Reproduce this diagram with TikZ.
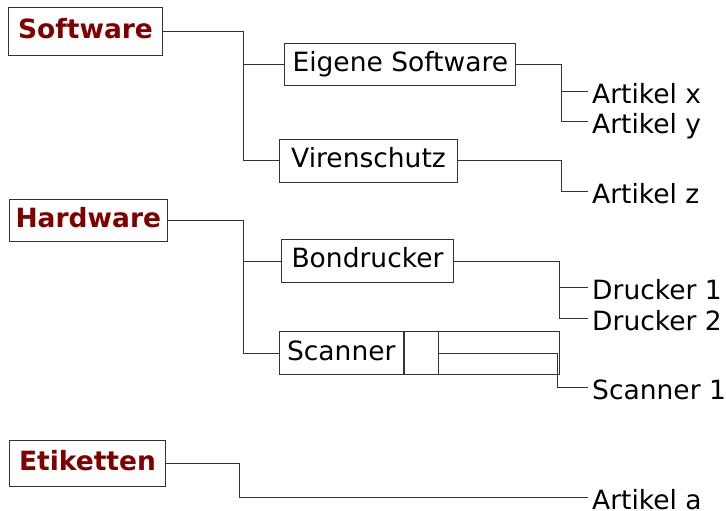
\documentclass[tikz,border=0pt]{standalone}
\usepackage{fontspec}
\setmainfont{DejaVu Sans}
\usepackage{tikz}
\usetikzlibrary{positioning}
\definecolor{darkred}{HTML}{800000}

\begin{document}
\begin{tikzpicture}[x=1pt, y=-1pt,
    font=\fontsize{26.5}{30}\selectfont,
    group/.style={draw=black!80, line width=1pt, inner sep=0pt,
        text height=19.3pt, text depth=5.5pt,
        font=\fontsize{26.5}{30}\selectfont\bfseries, text=darkred},
    category/.style={draw=black!80, line width=1pt, inner sep=0pt,
        text height=19.3pt, text depth=5.5pt},
    item/.style={inner xsep=4pt, inner ysep=0pt,
        text height=24pt, text depth=0pt, anchor=west},
    link/.style={draw=black!80, line width=1pt}
]
    \useasboundingbox (0,0) rectangle (726,511);

    % groups
    \node [group,
        minimum width=154pt,
        minimum height=48pt
    ]  (Software) at (85.5,32) {Software};
    \node [group,
        minimum width=158pt,
        minimum height=42.4pt
    ]  (Hardware) at (88.3,220.5) {Hardware};
    \node [group,
        minimum width=156.4pt,
        minimum height=46pt
    ]  (Etiketten) at (87.5,463.7) {Etiketten};

    % categories
    \node [category,
        minimum width=230.7pt,
        minimum height=41.7pt
    ]  (EigeneSoftware) at (400.3,64.8) {Eigene Software};
    \node [category,
        minimum width=178.4pt,
        minimum height=43pt
    ]  (Virenschutz) at (368.5,160.8) {Virenschutz};
    \node [category,
        minimum width=171.6pt,
        minimum height=43.4pt
    ]  (Bondrucker) at (367.5,261) {Bondrucker};
    \node [category,
        minimum width=280pt,
        minimum height=43.3pt,
        anchor=west
    ]  (ScannerFrame) at (279.3,353.3) {};
    \node [category,
        minimum width=124pt,
        minimum height=43.3pt
    ]  (Scanner) at (341.3,353.3) {Scanner};
    \node [category,
        minimum width=34pt,
        minimum height=43.3pt,
        right=0pt of Scanner
    ]  (ScannerCell) {};

    % items
    \node [item] (ArtikelX) at (588,91.7) {Artikel x};
    \node [item] (ArtikelY) at (588,121) {Artikel y};
    \node [item] (ArtikelZ) at (588,191.5) {Artikel z};
    \node [item] (Drucker1) at (588,287.3) {Drucker 1};
    \node [item] (Drucker2) at (588,318.3) {Drucker 2};
    \node [item] (Scanner1) at (588,387.5) {Scanner 1};
    \node [item] (ArtikelA) at (588,497.3) {Artikel a};

    % joints
    \coordinate (SoftwareJoint) at (243.5,0 |- Software.east);
    \coordinate (HardwareJoint) at (243.3,0 |- Hardware.east);
    \coordinate (EtikettenJoint) at (239.3,0 |- Etiketten.east);
    \coordinate (EigeneJoint) at (561.7,0 |- EigeneSoftware.east);
    \coordinate (VirenJoint) at (561.7,0 |- Virenschutz.east);
    \coordinate (BondJoint) at (559.3,0 |- Bondrucker.east);
    \coordinate (ScannerJoint) at (557.5,0 |- ScannerCell.east);

    % connectors
    \draw [link] (Software.east) -- (SoftwareJoint) |- (EigeneSoftware.west);
    \draw [link] (SoftwareJoint) |- (Virenschutz.west);
    \draw [link] (Hardware.east) -- (HardwareJoint) |- (Bondrucker.west);
    \draw [link] (HardwareJoint) |- (Scanner.west);
    \draw [link] (Etiketten.east) -- (EtikettenJoint) |- (ArtikelA.west);
    \draw [link] (EigeneSoftware.east) -- (EigeneJoint) |- (ArtikelX.west);
    \draw [link] (EigeneJoint) |- (ArtikelY.west);
    \draw [link] (Virenschutz.east) -- (VirenJoint) |- (ArtikelZ.west);
    \draw [link] (Bondrucker.east) -- (BondJoint) |- (Drucker1.west);
    \draw [link] (BondJoint) |- (Drucker2.west);
    \draw [link] (ScannerCell.east) -- (ScannerJoint) |- (Scanner1.west);

\end{tikzpicture}
\end{document}
